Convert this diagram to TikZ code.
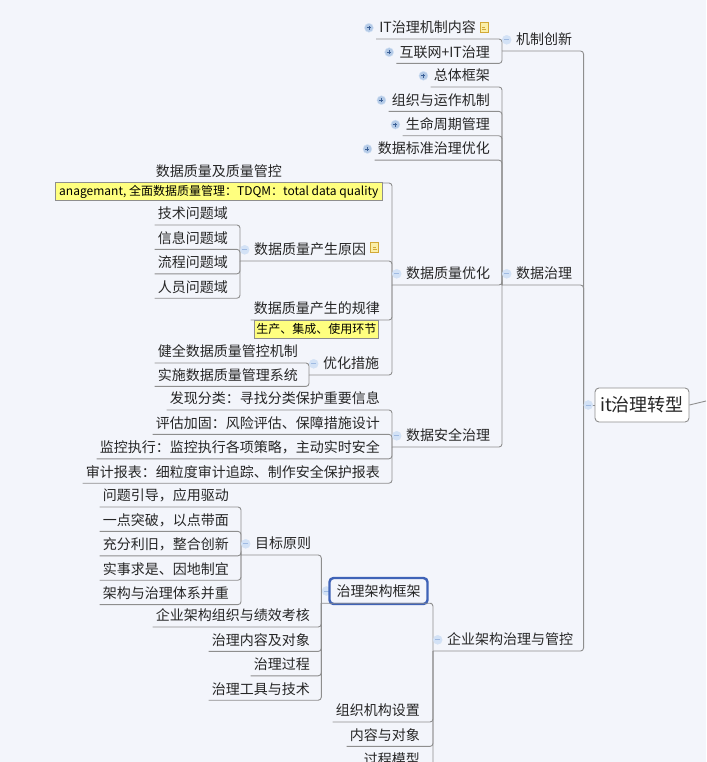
\documentclass[tikz,border=0pt]{standalone}
\usepackage{fontspec}
\setmainfont{Noto Sans CJK SC}
\usetikzlibrary{positioning}
\definecolor{mapbg}{HTML}{F3F5FB}
\definecolor{linegray}{HTML}{8E8E8E}
\definecolor{inkgray}{HTML}{262626}
\definecolor{selblue}{HTML}{3F63B7}
\definecolor{noteyellow}{HTML}{FFFF7F}
\definecolor{plusfill}{HTML}{B4CAE6}
\definecolor{plusink}{HTML}{3A5F96}
\definecolor{minusfill}{HTML}{D3E2F6}
\definecolor{minusink}{HTML}{9FBAE2}
\definecolor{markfill}{HTML}{FBEFA8}
\definecolor{markink}{HTML}{D2A937}
\begin{document}
\begin{tikzpicture}[x=1pt, y=-1pt,
    leaf/.style={inner xsep=3pt, inner ysep=0pt, minimum height=22pt, text height=10pt, text depth=0pt, text=inkgray, font=\fontsize{14}{14}\selectfont},
    topic/.style={leaf, anchor=south west, execute at begin node={\hspace*{11pt}}},
    sib/.style={below=2pt of #1.south east, anchor=north east},
    line/.style={draw=linegray, line width=0.9pt, rounded corners=3pt},
    note/.style={draw=linegray, fill=noteyellow, inner xsep=2pt, inner ysep=0pt, minimum height=18pt, text height=9pt, text depth=1pt, font=\fontsize{12}{12}\selectfont},
    rootbox/.style={draw=linegray, fill=white, rounded corners=4pt, line width=0.9pt, minimum width=94pt, minimum height=34pt, inner sep=0pt, text=inkgray, font=\fontsize{18}{18}\selectfont},
    selbox/.style={draw=selblue, fill=mapbg, rounded corners=4pt, line width=2.4pt, minimum width=98pt, minimum height=26pt, inner sep=0pt, text height=10pt, text depth=0pt, text=inkgray, font=\fontsize{14}{14}\selectfont},
    plus/.style={circle, draw=minusfill, fill=plusfill, minimum size=9pt, inner sep=0pt, line width=0.4pt,
      path picture={\draw[plusink, line width=0.8pt] (path picture bounding box.center) +(-2pt,0pt) -- +(2pt,0pt) +(0pt,-2pt) -- +(0pt,2pt);}},
    minus/.style={circle, draw=minusfill, fill=minusfill, minimum size=9pt, inner sep=0pt, line width=0.4pt,
      path picture={\draw[minusink, line width=0.8pt] (path picture bounding box.center) +(-2.5pt,0pt) -- +(2.5pt,0pt);}},
    notemark/.style={draw=markink, fill=markfill, minimum width=8pt, minimum height=10pt, inner sep=0pt, line width=0.8pt,
      path picture={\draw[markink, line width=0.5pt] (path picture bounding box.center) +(-2pt,-1.5pt) -- +(2pt,-1.5pt) +(-2pt,1pt) -- +(1pt,1pt);}}]

    \useasboundingbox (0,0) rectangle (706,762);
    \clip (0,0) rectangle (706,762);
    \fill[mapbg] (0,0) rectangle (706,762);

    % Nodes
    \node [rootbox] (root) at (642,405) {it治理转型};
    \coordinate [left=11pt of root] (rootbus);
    \coordinate (nextbranch) at (706,401);

    \node [topic] (mech) at (502,51) {机制创新};
    \node [leaf, anchor=south east] (itcontent) at (479,39) {IT治理机制内容};
    \node [leaf, sib=itcontent, xshift=14pt] (internetit) {互联网+IT治理};

    \node [topic] (datagov) at (502,285) {数据治理};
    \node [leaf, anchor=south east] (overall) at (493,87) {总体框架};
    \node [leaf, sib=overall] (orgrun) {组织与运作机制};
    \node [leaf, sib=orgrun] (lifecycle) {生命周期管理};
    \node [leaf, sib=lifecycle] (stdopt) {数据标准治理优化};
    \node [topic] (qualopt) at (392,285) {数据质量优化};
    \node [topic] (secgov) at (392,447) {数据安全治理};

    \node [leaf, anchor=south east] (qualctrl) at (285,183) {数据质量及质量管控};
    \node [topic, xshift=-1pt] (cause) at (241,261) {数据质量产生原因};
    \node [leaf, anchor=south east] (techdom) at (231,225) {技术问题域};
    \node [leaf, sib=techdom] (infodom) {信息问题域};
    \node [leaf, sib=infodom] (flowdom) {流程问题域};
    \node [leaf, sib=flowdom] (staffdom) {人员问题域};
    \node [leaf, anchor=south east] (rule) at (383,320) {数据质量产生的规律};
    \node [topic] (measure) at (309,375) {优化措施};
    \node [leaf, anchor=south east] (mechbuild) at (301,363) {健全数据质量管控机制};
    \node [leaf, sib=mechbuild, yshift=1pt] (sysbuild) {实施数据质量管理系统};

    \node [leaf, anchor=south east] (discover) at (383,410) {发现分类：寻找分类保护重要信息};
    \node [leaf, sib=discover] (assess) {评估加固：风险评估、保障措施设计};
    \node [leaf, sib=assess] (monitor) {监控执行：监控执行各项策略，主动实时安全};
    \node [leaf, sib=monitor] (audit) {审计报表：细粒度审计追踪、制作安全保护报表};

    \node [topic] (entgov) at (433,651) {企业架构治理与管控};
    \node [minus] (framework-icon) at (326.5,591) {};
    \node [selbox] (framework) at (378.5,591) {治理架构框架};
    \coordinate [left=7pt of framework.south west, yshift=2pt] (frameworkbus);
    \coordinate [right=0pt of framework.south east, yshift=2pt] (frameworkend);
    \node [leaf, anchor=south east] (orgset) at (423,722) {组织机构设置};
    \node [leaf, sib=orgset] (contobj) {内容与对象};
    \node [leaf, sib=contobj] (procmodel) {过程模型};

    \node [topic] (goal) at (241,555) {目标原则};
    \node [leaf, anchor=south east] (issue) at (232,507) {问题引导，应用驱动};
    \node [leaf, sib=issue] (breakthru) {一点突破，以点带面};
    \node [leaf, sib=breakthru] (reuse) {充分利旧，整合创新};
    \node [leaf, sib=reuse] (factual) {实事求是、因地制宜};
    \node [leaf, sib=factual] (both) {架构与治理体系并重};
    \node [leaf, anchor=south east] (orgkpi) at (313,627) {企业架构组织与绩效考核};
    \node [leaf, sib=orgkpi] (govobj) {治理内容及对象};
    \node [leaf, sib=govobj] (govproc) {治理过程};
    \node [leaf, sib=govproc] (govtool) {治理工具与技术};

    % Edges
    \draw [line] (root.east) -- (nextbranch);
    \draw [line] (rootbus) -- (root);
    \foreach \kid in {mech, datagov, entgov}
      \draw [line] (\kid.south west) -| (rootbus);
    \foreach \kid in {itcontent, internetit}
      \draw [line] (\kid.south west) -| (mech.south west);
    \foreach \kid in {overall, orgrun, lifecycle, stdopt, qualopt, secgov}
      \draw [line] (\kid.south west) -| (datagov.south west);
    \foreach \kid in {qualctrl, cause, rule, measure}
      \draw [line] (\kid.south west) -| (qualopt.south west);
    \foreach \kid in {techdom, infodom, flowdom, staffdom}
      \draw [line] (\kid.south west) -| (cause.south west);
    \foreach \kid in {mechbuild, sysbuild}
      \draw [line] (\kid.south west) -| (measure.south west);
    \foreach \kid in {discover, assess, monitor, audit}
      \draw [line] (\kid.south west) -| (secgov.south west);
    \foreach \kid in {orgset, contobj, procmodel}
      \draw [line] (\kid.south west) -| (entgov.south west);
    \draw [line] (frameworkbus) -- (frameworkend) -| (entgov.south west);
    \foreach \kid in {goal, orgkpi, govobj, govproc, govtool}
      \draw [line] (\kid.south west) -| (frameworkbus);
    \foreach \kid in {issue, breakthru, reuse, factual, both}
      \draw [line] (\kid.south west) -| (goal.south west);

    % Notes over the edges
    \node [note, inner xsep=4pt, below=-1pt of qualctrl] (qualnote) {anagemant, 全面数据质量管理：TDQM：total data quality};
    \node [note, below=0pt of rule, xshift=-0.5pt] (rulenote) {生产、集成、使用环节};

    % Icons
    \node [notemark, right=1pt of itcontent] (itnote) {};
    \node [notemark, right=1pt of cause, yshift=2pt] (causenote) {};
    \foreach \kid in {itcontent, internetit, overall, orgrun, lifecycle, stdopt}
      \node [plus, left=2.5pt of \kid] (\kid-icon) {};
    \foreach \kid in {mech, datagov, qualopt, secgov, cause, measure, goal, entgov}
      \node [minus, right=0pt of \kid.west] (\kid-icon) {};
    \node [minus, right=0pt of rootbus] (root-icon) {};
  \end{tikzpicture}
\end{document}
